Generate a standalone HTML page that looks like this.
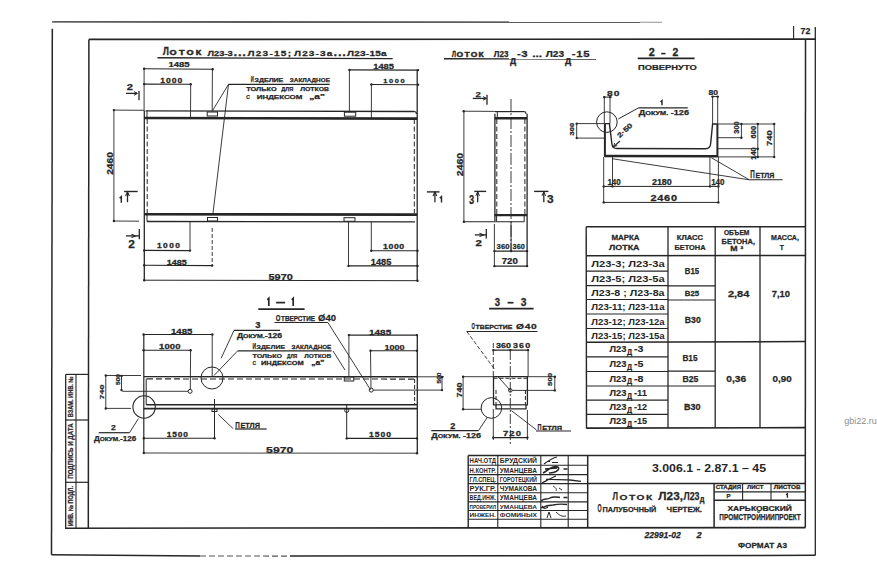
<!DOCTYPE html>
<html><head><meta charset="utf-8"><style>
html,body{margin:0;padding:0;background:#fff;}
svg{display:block;}
text{font-family:"Liberation Sans",sans-serif;}
</style></head><body>
<svg width="877" height="584" viewBox="0 0 877 584">
<rect width="877" height="584" fill="#fff"/>
<line x1="52.2" y1="21.9" x2="640.0" y2="22.2" stroke="#262626" stroke-width="1.3"/>
<line x1="640.0" y1="22.2" x2="662.0" y2="22.3" stroke="#262626" stroke-width="1.0" opacity="0.5"/>
<line x1="52.3" y1="28.8" x2="51.5" y2="554.8" stroke="#262626" stroke-width="1.5"/>
<path d="M51.5,554.7 L200,556.0" stroke="#262626" stroke-width="1.5" fill="none"/>
<path d="M200,556.0 L290,556.1" stroke="#555" stroke-width="1.1" fill="none" stroke-dasharray="6,3"/>
<path d="M290,556.1 L815.3,555.3" stroke="#262626" stroke-width="1.5" fill="none"/>
<line x1="815.3" y1="27.0" x2="815.3" y2="555.4" stroke="#262626" stroke-width="1.3"/>
<line x1="88.9" y1="39.4" x2="815.9" y2="39.1" stroke="#262626" stroke-width="1.6"/>
<line x1="88.9" y1="39.4" x2="88.3" y2="528.0" stroke="#262626" stroke-width="1.5"/>
<line x1="65.0" y1="528.2" x2="805.5" y2="527.6" stroke="#262626" stroke-width="1.6"/>
<line x1="805.5" y1="39.1" x2="805.3" y2="527.6" stroke="#262626" stroke-width="1.5"/>
<line x1="793.6" y1="26.0" x2="793.6" y2="39.2" stroke="#262626" stroke-width="1.1"/>
<text x="800.6" y="34.1" font-size="9.29" font-weight="bold" font-style="normal" font-family="Liberation Sans" fill="#262626" stroke="#262626" stroke-width="0.25" textLength="9.7" lengthAdjust="spacingAndGlyphs">72</text>
<line x1="65.7" y1="374.4" x2="65.7" y2="528.0" stroke="#262626" stroke-width="1.3"/>
<line x1="76.0" y1="374.4" x2="76.0" y2="528.0" stroke="#262626" stroke-width="1.1"/>
<line x1="65.7" y1="374.4" x2="88.4" y2="374.4" stroke="#262626" stroke-width="1.2"/>
<line x1="65.7" y1="420.0" x2="88.4" y2="420.0" stroke="#262626" stroke-width="1.2"/>
<line x1="65.7" y1="482.3" x2="88.4" y2="482.3" stroke="#262626" stroke-width="1.2"/>
<text transform="translate(71.0,396.8) rotate(-90)" x="-20.5" y="2.3" font-size="6.57" font-weight="bold" font-family="Liberation Sans" fill="#262626" stroke="#262626" stroke-width="0.25" textLength="41.0" lengthAdjust="spacingAndGlyphs">ВЗАМ. ИНВ. №</text>
<text transform="translate(71.0,451.1) rotate(-90)" x="-27.7" y="2.3" font-size="6.57" font-weight="bold" font-family="Liberation Sans" fill="#262626" stroke="#262626" stroke-width="0.25" textLength="55.4" lengthAdjust="spacingAndGlyphs">ПОДПИСЬ И ДАТА</text>
<text transform="translate(71.0,506.0) rotate(-90)" x="-20.0" y="2.3" font-size="6.57" font-weight="bold" font-family="Liberation Sans" fill="#262626" stroke="#262626" stroke-width="0.25" textLength="40.0" lengthAdjust="spacingAndGlyphs">ИНВ. № ПОДЛ.</text>
<line x1="468.2" y1="455.6" x2="805.5" y2="455.4" stroke="#262626" stroke-width="1.5"/>
<line x1="468.2" y1="455.6" x2="468.2" y2="527.8" stroke="#262626" stroke-width="1.4"/>
<line x1="468.2" y1="465.2" x2="587.7" y2="465.2" stroke="#262626" stroke-width="1.1"/>
<line x1="468.2" y1="474.6" x2="587.7" y2="474.6" stroke="#262626" stroke-width="1.1"/>
<line x1="468.2" y1="483.6" x2="587.7" y2="483.6" stroke="#262626" stroke-width="1.1"/>
<line x1="468.2" y1="492.7" x2="587.7" y2="492.7" stroke="#262626" stroke-width="1.1"/>
<line x1="468.2" y1="501.9" x2="587.7" y2="501.9" stroke="#262626" stroke-width="1.1"/>
<line x1="468.2" y1="510.5" x2="587.7" y2="510.5" stroke="#262626" stroke-width="1.1"/>
<line x1="468.2" y1="519.2" x2="587.7" y2="519.2" stroke="#262626" stroke-width="1.1"/>
<line x1="497.8" y1="455.6" x2="497.8" y2="527.8" stroke="#262626" stroke-width="1.1"/>
<line x1="540.8" y1="455.6" x2="540.8" y2="527.8" stroke="#262626" stroke-width="1.1"/>
<line x1="568.2" y1="455.6" x2="568.2" y2="527.8" stroke="#262626" stroke-width="1.1"/>
<line x1="587.7" y1="455.6" x2="587.7" y2="527.8" stroke="#262626" stroke-width="1.5"/>
<line x1="587.7" y1="483.4" x2="805.5" y2="483.6" stroke="#262626" stroke-width="1.5"/>
<line x1="714.1" y1="483.6" x2="714.1" y2="527.8" stroke="#262626" stroke-width="1.5"/>
<line x1="714.1" y1="491.9" x2="805.5" y2="491.9" stroke="#262626" stroke-width="1.1"/>
<line x1="714.1" y1="500.3" x2="805.5" y2="500.3" stroke="#262626" stroke-width="1.5"/>
<line x1="742.6" y1="483.6" x2="742.6" y2="500.3" stroke="#262626" stroke-width="1.1"/>
<line x1="771.0" y1="483.6" x2="771.0" y2="500.3" stroke="#262626" stroke-width="1.1"/>
<text x="469.6" y="463.2" font-size="7.14" font-weight="bold" font-style="normal" font-family="Liberation Sans" fill="#262626" textLength="26.4" lengthAdjust="spacingAndGlyphs">НАЧ.ОТД</text>
<text x="499.8" y="463.2" font-size="7.14" font-weight="bold" font-style="normal" font-family="Liberation Sans" fill="#262626" textLength="37.2" lengthAdjust="spacingAndGlyphs">БРУДСКИЙ</text>
<text x="469.6" y="472.6" font-size="7.14" font-weight="bold" font-style="normal" font-family="Liberation Sans" fill="#262626" textLength="26.4" lengthAdjust="spacingAndGlyphs">Н.КОНТР.</text>
<text x="499.8" y="472.6" font-size="7.14" font-weight="bold" font-style="normal" font-family="Liberation Sans" fill="#262626" textLength="37.2" lengthAdjust="spacingAndGlyphs">УМАНЦЕВА</text>
<text x="469.6" y="481.6" font-size="6.57" font-weight="bold" font-style="normal" font-family="Liberation Sans" fill="#262626" textLength="26.4" lengthAdjust="spacingAndGlyphs">ГЛ.СПЕЦ.</text>
<text x="499.8" y="481.6" font-size="6.57" font-weight="bold" font-style="normal" font-family="Liberation Sans" fill="#262626" textLength="37.2" lengthAdjust="spacingAndGlyphs">ГОРОТЕЦКИЙ</text>
<text transform="translate(469.6,490.7) scale(1.115,1)" font-size="6.71" font-weight="bold" font-style="normal" font-family="Liberation Sans" fill="#262626" textLength="23.7" lengthAdjust="spacing">РУК.ГР.</text>
<text x="499.8" y="490.7" font-size="6.71" font-weight="bold" font-style="normal" font-family="Liberation Sans" fill="#262626" textLength="37.2" lengthAdjust="spacingAndGlyphs">ЧУМАКОВА</text>
<text x="469.6" y="499.9" font-size="6.86" font-weight="bold" font-style="normal" font-family="Liberation Sans" fill="#262626" textLength="26.4" lengthAdjust="spacingAndGlyphs">ВЕД.ИНЖ.</text>
<text x="499.8" y="499.9" font-size="6.86" font-weight="bold" font-style="normal" font-family="Liberation Sans" fill="#262626" textLength="37.2" lengthAdjust="spacingAndGlyphs">УМАНЦЕВА</text>
<text x="469.6" y="508.5" font-size="6.00" font-weight="bold" font-style="normal" font-family="Liberation Sans" fill="#262626" textLength="26.4" lengthAdjust="spacingAndGlyphs">ПРОВЕРИЛ</text>
<text transform="translate(499.8,508.5) scale(1.089,1)" font-size="6.00" font-weight="bold" font-style="normal" font-family="Liberation Sans" fill="#262626" textLength="34.1" lengthAdjust="spacing">УМАНЦЕВА</text>
<text transform="translate(469.6,517.2) scale(1.071,1)" font-size="6.14" font-weight="bold" font-style="normal" font-family="Liberation Sans" fill="#262626" textLength="24.6" lengthAdjust="spacing">ИНЖЕН.</text>
<text transform="translate(499.8,517.2) scale(1.091,1)" font-size="6.14" font-weight="bold" font-style="normal" font-family="Liberation Sans" fill="#262626" textLength="34.1" lengthAdjust="spacing">ФОМИНЫХ</text>
<text transform="translate(651.9,471.5) scale(1.154,1)" font-size="10.71" font-weight="bold" font-style="normal" font-family="Liberation Sans" fill="#262626" textLength="98.9" lengthAdjust="spacing">3.006.1 - 2.87.1 – 45</text>
<text x="612.5" y="500.4" font-size="11.71" font-weight="bold" font-style="normal" font-family="Liberation Sans" fill="#262626" stroke="#262626" stroke-width="0.25" textLength="5.5" lengthAdjust="spacingAndGlyphs">Л</text>
<text transform="translate(619.4,500.4) scale(1.300,1)" font-size="7.86" font-weight="bold" font-style="normal" font-family="Liberation Sans" fill="#262626" stroke="#262626" stroke-width="0.25" textLength="25.2" lengthAdjust="spacing">ОТОК</text>
<text transform="translate(658.3,500.4) scale(1.008,1)" font-size="11.71" font-weight="bold" font-style="normal" font-family="Liberation Sans" fill="#262626" stroke="#262626" stroke-width="0.25" textLength="24.5" lengthAdjust="spacing">Л23,</text>
<text x="683.5" y="500.4" font-size="11.71" font-weight="bold" font-style="normal" font-family="Liberation Sans" fill="#262626" stroke="#262626" stroke-width="0.25" textLength="16.0" lengthAdjust="spacingAndGlyphs">Л23</text>
<text x="699.8" y="502.4" font-size="9.25" font-weight="bold" font-style="normal" font-family="Liberation Sans" fill="#262626" stroke="#262626" stroke-width="0.25" textLength="4.7" lengthAdjust="spacingAndGlyphs">д</text>
<text x="597.5" y="512.0" font-size="10.71" font-weight="bold" font-style="normal" font-family="Liberation Sans" fill="#262626" stroke="#262626" stroke-width="0.25" textLength="4.1" lengthAdjust="spacingAndGlyphs">О</text>
<text x="602.5" y="512.0" font-size="7.86" font-weight="bold" font-style="normal" font-family="Liberation Sans" fill="#262626" stroke="#262626" stroke-width="0.25" textLength="53.8" lengthAdjust="spacingAndGlyphs">ПАЛУБОЧНЫЙ</text>
<text transform="translate(666.6,512.0) scale(1.008,1)" font-size="7.86" font-weight="bold" font-style="normal" font-family="Liberation Sans" fill="#262626" stroke="#262626" stroke-width="0.25" textLength="35.2" lengthAdjust="spacing">ЧЕРТЕЖ.</text>
<text transform="translate(715.8,489.4) scale(1.117,1)" font-size="5.43" font-weight="bold" font-style="normal" font-family="Liberation Sans" fill="#262626" stroke="#262626" stroke-width="0.25" textLength="22.6" lengthAdjust="spacing">СТАДИЯ</text>
<text transform="translate(747.0,489.4) scale(1.114,1)" font-size="5.43" font-weight="bold" font-style="normal" font-family="Liberation Sans" fill="#262626" stroke="#262626" stroke-width="0.25" textLength="14.8" lengthAdjust="spacing">ЛИСТ</text>
<text transform="translate(773.8,489.4) scale(1.179,1)" font-size="5.43" font-weight="bold" font-style="normal" font-family="Liberation Sans" fill="#262626" stroke="#262626" stroke-width="0.25" textLength="22.8" lengthAdjust="spacing">ЛИСТОВ</text>
<text x="726.6" y="497.6" font-size="5.43" font-weight="bold" font-style="normal" font-family="Liberation Sans" fill="#262626" stroke="#262626" stroke-width="0.25" textLength="4.0" lengthAdjust="spacingAndGlyphs">Р</text>
<path d="M786.0,494.8 L787.4,493.8 L787.4,497.8" stroke="#262626" stroke-width="1.3" fill="none"/>
<text transform="translate(727.4,510.8) scale(1.235,1)" font-size="6.86" font-weight="bold" font-style="normal" font-family="Liberation Sans" fill="#262626" stroke="#262626" stroke-width="0.25" textLength="52.2" lengthAdjust="spacing">ХАРЬКОВСКИЙ</text>
<text x="719.3" y="520.4" font-size="9.57" font-weight="bold" font-style="normal" font-family="Liberation Sans" fill="#262626" stroke="#262626" stroke-width="0.25" textLength="81.5" lengthAdjust="spacingAndGlyphs">ПРОМСТРОЙНИИПРОЕКТ</text>
<text x="644.5" y="538.3" font-size="9.43" font-weight="bold" font-style="italic" font-family="Liberation Sans" fill="#262626" stroke="#262626" stroke-width="0.25" textLength="36.3" lengthAdjust="spacingAndGlyphs">22991-02</text>
<text x="696.4" y="538.3" font-size="9.43" font-weight="bold" font-style="italic" font-family="Liberation Sans" fill="#262626" stroke="#262626" stroke-width="0.25" textLength="5.1" lengthAdjust="spacingAndGlyphs">2</text>
<text transform="translate(738.0,548.3) scale(1.028,1)" font-size="8.00" font-weight="bold" font-style="normal" font-family="Liberation Sans" fill="#262626" stroke="#262626" stroke-width="0.25" textLength="47.7" lengthAdjust="spacing">ФОРМАТ А3</text>
<text x="844.2" y="423.8" font-size="9.01" font-weight="normal" font-style="normal" font-family="Liberation Sans" fill="#8c8c8c" textLength="32.6" lengthAdjust="spacingAndGlyphs">gbi22.ru</text>
<text x="163.0" y="55.2" font-size="11.43" font-weight="bold" font-style="normal" font-family="Liberation Sans" fill="#262626" stroke="#262626" stroke-width="0.5" textLength="5.8" lengthAdjust="spacingAndGlyphs">Л</text>
<text transform="translate(169.6,55.2) scale(1.300,1)" font-size="7.00" font-weight="bold" font-style="normal" font-family="Liberation Sans" fill="#262626" stroke="#262626" stroke-width="0.45" textLength="24.4" lengthAdjust="spacing">ОТОК</text>
<text transform="translate(207.5,55.7) scale(1.209,1)" font-size="7.71" font-weight="bold" font-style="normal" font-family="Liberation Sans" fill="#262626" stroke="#262626" stroke-width="0.25" textLength="20.9" lengthAdjust="spacing">Л23-3</text>
<text transform="translate(233.5,56.0) scale(1.300,1)" font-size="10.00" font-weight="bold" font-style="normal" font-family="Liberation Sans" fill="#262626" stroke="#262626" stroke-width="0.25" textLength="9.6" lengthAdjust="spacing">...</text>
<text transform="translate(247.5,55.7) scale(1.300,1)" font-size="7.71" font-weight="bold" font-style="normal" font-family="Liberation Sans" fill="#262626" stroke="#262626" stroke-width="0.25" textLength="33.5" lengthAdjust="spacing">Л23-15;</text>
<text transform="translate(294.0,55.7) scale(1.300,1)" font-size="7.71" font-weight="bold" font-style="normal" font-family="Liberation Sans" fill="#262626" stroke="#262626" stroke-width="0.25" textLength="29.5" lengthAdjust="spacing">Л23-3а</text>
<text transform="translate(333.5,56.0) scale(1.300,1)" font-size="10.00" font-weight="bold" font-style="normal" font-family="Liberation Sans" fill="#262626" stroke="#262626" stroke-width="0.25" textLength="9.6" lengthAdjust="spacing">...</text>
<text transform="translate(347.0,55.7) scale(1.300,1)" font-size="7.71" font-weight="bold" font-style="normal" font-family="Liberation Sans" fill="#262626" stroke="#262626" stroke-width="0.25" textLength="30.5" lengthAdjust="spacing">Л23-15а</text>
<line x1="157.5" y1="57.8" x2="392.7" y2="58.6" stroke="#262626" stroke-width="1.4"/>
<line x1="144.1" y1="68.8" x2="212.7" y2="69.2" stroke="#262626" stroke-width="1.1"/>
<circle cx="144.1" cy="68.8" r="1.2" fill="#262626"/>
<circle cx="212.7" cy="69.2" r="1.2" fill="#262626"/>
<text transform="translate(168.5,67.4) scale(1.283,1)" font-size="7.43" font-weight="bold" font-style="normal" font-family="Liberation Sans" fill="#262626" stroke="#262626" stroke-width="0.25" textLength="16.5" lengthAdjust="spacing">1485</text>
<line x1="144.1" y1="84.1" x2="190.7" y2="84.3" stroke="#262626" stroke-width="1.1"/>
<circle cx="144.1" cy="84.1" r="1.2" fill="#262626"/>
<circle cx="190.7" cy="84.3" r="1.2" fill="#262626"/>
<text transform="translate(160.3,82.7) scale(1.300,1)" font-size="6.57" font-weight="bold" font-style="normal" font-family="Liberation Sans" fill="#262626" stroke="#262626" stroke-width="0.25" textLength="16.8" lengthAdjust="spacing">1000</text>
<line x1="144.1" y1="68.8" x2="144.1" y2="111.0" stroke="#262626" stroke-width="0.9"/>
<line x1="190.7" y1="84.3" x2="190.5" y2="118.0" stroke="#262626" stroke-width="0.9"/>
<line x1="212.4" y1="69.2" x2="212.2" y2="111.0" stroke="#262626" stroke-width="0.9"/>
<line x1="349.4" y1="69.9" x2="418.5" y2="70.1" stroke="#262626" stroke-width="1.1"/>
<circle cx="349.4" cy="69.9" r="1.2" fill="#262626"/>
<circle cx="418.0" cy="70.1" r="1.2" fill="#262626"/>
<text transform="translate(373.3,68.9) scale(1.229,1)" font-size="7.57" font-weight="bold" font-style="normal" font-family="Liberation Sans" fill="#262626" stroke="#262626" stroke-width="0.25" textLength="16.8" lengthAdjust="spacing">1485</text>
<line x1="371.4" y1="84.5" x2="418.5" y2="84.7" stroke="#262626" stroke-width="1.1"/>
<circle cx="371.4" cy="84.5" r="1.2" fill="#262626"/>
<circle cx="418.0" cy="84.7" r="1.2" fill="#262626"/>
<text transform="translate(383.3,83.3) scale(1.300,1)" font-size="5.71" font-weight="bold" font-style="normal" font-family="Liberation Sans" fill="#262626" stroke="#262626" stroke-width="0.25" textLength="16.5" lengthAdjust="spacing">1000</text>
<line x1="349.4" y1="69.9" x2="349.4" y2="112.0" stroke="#262626" stroke-width="0.9"/>
<line x1="371.4" y1="84.5" x2="371.4" y2="118.0" stroke="#262626" stroke-width="0.9"/>
<text x="126.7" y="90.0" font-size="9.14" font-weight="bold" font-style="normal" font-family="Liberation Sans" fill="#262626" stroke="#262626" stroke-width="0.25" textLength="6.2" lengthAdjust="spacingAndGlyphs">2</text>
<line x1="126.0" y1="93.4" x2="137.0" y2="93.4" stroke="#262626" stroke-width="1.3"/>
<path d="M134,91.6 L137.5,93.4 L134,95.2" stroke="#262626" stroke-width="1.0" fill="none"/>
<line x1="139.0" y1="91.0" x2="139.0" y2="100.3" stroke="#262626" stroke-width="1.3"/>
<line x1="113.9" y1="110.1" x2="113.9" y2="221.0" stroke="#262626" stroke-width="0.9"/>
<circle cx="113.9" cy="110.1" r="1.2" fill="#262626"/>
<circle cx="113.9" cy="221.0" r="1.2" fill="#262626"/>
<line x1="113.0" y1="110.1" x2="144.3" y2="110.3" stroke="#262626" stroke-width="0.9"/>
<line x1="113.3" y1="221.0" x2="139.0" y2="221.2" stroke="#262626" stroke-width="0.9"/>
<text transform="translate(109.5,163.5) rotate(-90)" x="-11.3" y="3.1" font-size="9.00" font-weight="bold" font-family="Liberation Sans" fill="#262626" stroke="#262626" stroke-width="0.25" textLength="22.6" lengthAdjust="spacingAndGlyphs">2460</text>
<line x1="145.5" y1="110.9" x2="414.0" y2="111.5" stroke="#262626" stroke-width="1.3"/>
<path d="M414,111.5 Q416.5,111.6 416.5,114" stroke="#262626" stroke-width="1.2" fill="none"/>
<line x1="144.3" y1="118.0" x2="417.2" y2="118.6" stroke="#262626" stroke-width="2.6"/>
<line x1="144.3" y1="214.2" x2="417.2" y2="214.6" stroke="#262626" stroke-width="2.6"/>
<line x1="147.0" y1="221.5" x2="415.0" y2="221.9" stroke="#262626" stroke-width="1.3"/>
<line x1="144.3" y1="110.9" x2="144.3" y2="280.5" stroke="#262626" stroke-width="1.3"/>
<line x1="417.2" y1="69.9" x2="417.2" y2="280.9" stroke="#262626" stroke-width="1.3"/>
<line x1="147.2" y1="119.0" x2="147.2" y2="213.0" stroke="#262626" stroke-width="1.0" stroke-dasharray="5,2.5"/>
<line x1="414.3" y1="119.0" x2="414.3" y2="213.0" stroke="#262626" stroke-width="1.0" stroke-dasharray="5,2.5"/>
<line x1="147.0" y1="111.0" x2="147.0" y2="118.0" stroke="#262626" stroke-width="1.0"/>
<line x1="147.0" y1="215.0" x2="147.0" y2="221.5" stroke="#262626" stroke-width="1.0"/>
<rect x="207.2" y="112.0" width="10.3" height="4.0" stroke="#262626" stroke-width="1.0" fill="none"/>
<rect x="344.4" y="112.2" width="11.3" height="4.0" stroke="#262626" stroke-width="1.0" fill="none"/>
<rect x="207.5" y="217.5" width="10.0" height="3.5" stroke="#262626" stroke-width="1.0" fill="none"/>
<rect x="344.0" y="217.7" width="11.0" height="3.6" stroke="#262626" stroke-width="1.0" fill="none"/>
<line x1="228.5" y1="84.3" x2="329.7" y2="84.3" stroke="#262626" stroke-width="1.2"/>
<line x1="228.5" y1="84.3" x2="212.3" y2="111.0" stroke="#262626" stroke-width="0.9"/>
<line x1="228.5" y1="84.3" x2="212.9" y2="214.0" stroke="#262626" stroke-width="0.9"/>
<text x="250.8" y="82.3" font-size="8.57" font-weight="bold" font-style="normal" font-family="Liberation Sans" fill="#262626" stroke="#262626" stroke-width="0.25" textLength="3.0" lengthAdjust="spacingAndGlyphs">И</text>
<text x="254.6" y="82.3" font-size="5.43" font-weight="bold" font-style="normal" font-family="Liberation Sans" fill="#262626" stroke="#262626" stroke-width="0.25" textLength="28.7" lengthAdjust="spacingAndGlyphs">ЗДЕЛИЕ</text>
<text x="289.8" y="82.3" font-size="5.43" font-weight="bold" font-style="normal" font-family="Liberation Sans" fill="#262626" stroke="#262626" stroke-width="0.25" textLength="40.1" lengthAdjust="spacingAndGlyphs">ЗАКЛАДНОЕ</text>
<text x="246.2" y="91.3" font-size="6.00" font-weight="bold" font-style="normal" font-family="Liberation Sans" fill="#262626" stroke="#262626" stroke-width="0.25" textLength="30.4" lengthAdjust="spacingAndGlyphs">ТОЛЬКО</text>
<text x="281.3" y="91.3" font-size="6.00" font-weight="bold" font-style="normal" font-family="Liberation Sans" fill="#262626" stroke="#262626" stroke-width="0.25" textLength="12.1" lengthAdjust="spacingAndGlyphs">ДЛЯ</text>
<text x="300.2" y="91.3" font-size="6.00" font-weight="bold" font-style="normal" font-family="Liberation Sans" fill="#262626" stroke="#262626" stroke-width="0.25" textLength="28.9" lengthAdjust="spacingAndGlyphs">ЛОТКОВ</text>
<text x="246.2" y="98.7" font-size="6.00" font-weight="bold" font-style="normal" font-family="Liberation Sans" fill="#262626" stroke="#262626" stroke-width="0.25" textLength="3.7" lengthAdjust="spacingAndGlyphs">С</text>
<text x="256.7" y="98.7" font-size="6.00" font-weight="bold" font-style="normal" font-family="Liberation Sans" fill="#262626" stroke="#262626" stroke-width="0.25" textLength="45.6" lengthAdjust="spacingAndGlyphs">ИНДЕКСОМ</text>
<text x="309.2" y="98.7" font-size="7.00" font-weight="bold" font-style="normal" font-family="Liberation Sans" fill="#262626" stroke="#262626" stroke-width="0.25" textLength="15.7" lengthAdjust="spacingAndGlyphs">„а"</text>
<line x1="124.1" y1="191.5" x2="137.7" y2="191.5" stroke="#262626" stroke-width="1.4"/>
<line x1="127.5" y1="192.0" x2="127.5" y2="202.2" stroke="#262626" stroke-width="1.3"/>
<path d="M125.6,196 L127.5,192 L129.4,196" stroke="#262626" stroke-width="1.1" fill="none"/>
<path d="M119.6,198.2 L121.3,196.6 L121.3,202.7" stroke="#262626" stroke-width="1.4" fill="none"/>
<line x1="426.9" y1="191.9" x2="439.5" y2="191.9" stroke="#262626" stroke-width="1.4"/>
<line x1="434.9" y1="192.0" x2="434.9" y2="202.2" stroke="#262626" stroke-width="1.3"/>
<path d="M433,196 L434.9,192 L436.8,196" stroke="#262626" stroke-width="1.1" fill="none"/>
<path d="M439.8,198.2 L441.5,196.6 L441.5,202.5" stroke="#262626" stroke-width="1.4" fill="none"/>
<line x1="126.0" y1="235.9" x2="139.3" y2="235.9" stroke="#262626" stroke-width="1.3"/>
<path d="M131.5,234.2 L135.5,235.9 L131.5,237.6" stroke="#262626" stroke-width="1.1" fill="none"/>
<line x1="139.3" y1="228.9" x2="139.3" y2="239.3" stroke="#262626" stroke-width="1.3"/>
<text x="128.2" y="248.2" font-size="10.57" font-weight="bold" font-style="normal" font-family="Liberation Sans" fill="#262626" stroke="#262626" stroke-width="0.25" textLength="6.6" lengthAdjust="spacingAndGlyphs">2</text>
<line x1="144.2" y1="250.4" x2="190.0" y2="250.6" stroke="#262626" stroke-width="1.1"/>
<circle cx="144.2" cy="250.4" r="1.2" fill="#262626"/>
<circle cx="190.0" cy="250.6" r="1.2" fill="#262626"/>
<text transform="translate(157.0,248.2) scale(1.300,1)" font-size="6.43" font-weight="bold" font-style="normal" font-family="Liberation Sans" fill="#262626" stroke="#262626" stroke-width="0.25" textLength="17.7" lengthAdjust="spacing">1000</text>
<line x1="144.2" y1="265.2" x2="212.2" y2="265.6" stroke="#262626" stroke-width="1.1"/>
<circle cx="144.2" cy="265.2" r="1.2" fill="#262626"/>
<circle cx="212.2" cy="265.6" r="1.2" fill="#262626"/>
<text transform="translate(166.7,264.5) scale(1.210,1)" font-size="7.43" font-weight="bold" font-style="normal" font-family="Liberation Sans" fill="#262626" stroke="#262626" stroke-width="0.25" textLength="16.5" lengthAdjust="spacing">1485</text>
<line x1="190.0" y1="222.0" x2="190.0" y2="250.5" stroke="#262626" stroke-width="0.9"/>
<line x1="212.2" y1="228.0" x2="212.2" y2="265.4" stroke="#262626" stroke-width="0.9" stroke-dasharray="4,2"/>
<line x1="371.3" y1="250.8" x2="418.0" y2="250.8" stroke="#262626" stroke-width="1.1"/>
<circle cx="371.3" cy="250.8" r="1.2" fill="#262626"/>
<circle cx="417.5" cy="250.8" r="1.2" fill="#262626"/>
<text transform="translate(383.1,248.9) scale(1.300,1)" font-size="6.71" font-weight="bold" font-style="normal" font-family="Liberation Sans" fill="#262626" stroke="#262626" stroke-width="0.25" textLength="16.2" lengthAdjust="spacing">1000</text>
<line x1="348.5" y1="265.9" x2="418.0" y2="265.9" stroke="#262626" stroke-width="1.1"/>
<circle cx="348.5" cy="265.9" r="1.2" fill="#262626"/>
<circle cx="417.5" cy="265.9" r="1.2" fill="#262626"/>
<text transform="translate(370.8,264.8) scale(1.132,1)" font-size="8.14" font-weight="bold" font-style="normal" font-family="Liberation Sans" fill="#262626" stroke="#262626" stroke-width="0.25" textLength="18.1" lengthAdjust="spacing">1485</text>
<line x1="371.3" y1="222.0" x2="371.3" y2="250.8" stroke="#262626" stroke-width="0.9"/>
<line x1="348.5" y1="222.0" x2="348.5" y2="265.9" stroke="#262626" stroke-width="0.9"/>
<line x1="144.2" y1="280.2" x2="418.0" y2="280.7" stroke="#262626" stroke-width="1.0"/>
<circle cx="144.2" cy="280.2" r="1.2" fill="#262626"/>
<circle cx="417.5" cy="280.7" r="1.2" fill="#262626"/>
<text transform="translate(268.5,279.6) scale(1.159,1)" font-size="9.43" font-weight="bold" font-style="normal" font-family="Liberation Sans" fill="#262626" stroke="#262626" stroke-width="0.25" textLength="21.0" lengthAdjust="spacing">5970</text>
<text x="451.9" y="56.9" font-size="9.14" font-weight="bold" font-style="normal" font-family="Liberation Sans" fill="#262626" stroke="#262626" stroke-width="0.45" textLength="3.9" lengthAdjust="spacingAndGlyphs">Л</text>
<text transform="translate(456.5,56.9) scale(1.300,1)" font-size="6.57" font-weight="bold" font-style="normal" font-family="Liberation Sans" fill="#262626" stroke="#262626" stroke-width="0.4" textLength="21.0" lengthAdjust="spacing">ОТОК</text>
<text x="493.8" y="56.9" font-size="8.71" font-weight="bold" font-style="normal" font-family="Liberation Sans" fill="#262626" stroke="#262626" stroke-width="0.25" textLength="14.6" lengthAdjust="spacingAndGlyphs">Л23</text>
<text x="510.0" y="64.2" font-size="10.57" font-weight="bold" font-style="normal" font-family="Liberation Sans" fill="#262626" stroke="#262626" stroke-width="0.25" textLength="6.2" lengthAdjust="spacingAndGlyphs">д</text>
<text transform="translate(517.0,56.9) scale(1.300,1)" font-size="8.71" font-weight="bold" font-style="normal" font-family="Liberation Sans" fill="#262626" stroke="#262626" stroke-width="0.25" textLength="8.2" lengthAdjust="spacing">-3</text>
<text transform="translate(532.2,56.9) scale(1.263,1)" font-size="9.50" font-weight="bold" font-style="normal" font-family="Liberation Sans" fill="#262626" stroke="#262626" stroke-width="0.25" textLength="7.9" lengthAdjust="spacing">...</text>
<text transform="translate(545.8,56.9) scale(1.158,1)" font-size="8.71" font-weight="bold" font-style="normal" font-family="Liberation Sans" fill="#262626" stroke="#262626" stroke-width="0.25" textLength="15.8" lengthAdjust="spacing">Л23</text>
<text x="565.0" y="64.2" font-size="10.57" font-weight="bold" font-style="normal" font-family="Liberation Sans" fill="#262626" stroke="#262626" stroke-width="0.25" textLength="6.2" lengthAdjust="spacingAndGlyphs">д</text>
<text transform="translate(571.8,56.9) scale(1.300,1)" font-size="8.71" font-weight="bold" font-style="normal" font-family="Liberation Sans" fill="#262626" stroke="#262626" stroke-width="0.25" textLength="13.7" lengthAdjust="spacing">-15</text>
<line x1="444.0" y1="58.8" x2="596.0" y2="59.0" stroke="#262626" stroke-width="1.4"/>
<text x="475.6" y="96.6" font-size="8.00" font-weight="bold" font-style="normal" font-family="Liberation Sans" fill="#262626" stroke="#262626" stroke-width="0.25" textLength="5.4" lengthAdjust="spacingAndGlyphs">2</text>
<line x1="472.8" y1="98.4" x2="486.0" y2="98.4" stroke="#262626" stroke-width="1.3"/>
<path d="M483,96.6 L486.5,98.4 L483,100.2" stroke="#262626" stroke-width="1.0" fill="none"/>
<line x1="487.0" y1="94.7" x2="487.0" y2="104.8" stroke="#262626" stroke-width="1.3"/>
<line x1="463.7" y1="111.2" x2="494.7" y2="111.4" stroke="#262626" stroke-width="0.9"/>
<circle cx="463.7" cy="111.2" r="1.2" fill="#262626"/>
<line x1="494.7" y1="111.6" x2="524.5" y2="111.6" stroke="#262626" stroke-width="1.2"/>
<path d="M524.5,111.6 Q526,111.8 526,114" stroke="#262626" stroke-width="1.1" fill="none"/>
<line x1="497.3" y1="111.6" x2="497.3" y2="117.2" stroke="#262626" stroke-width="1.0"/>
<line x1="494.9" y1="113.8" x2="494.9" y2="221.0" stroke="#262626" stroke-width="1.3"/>
<line x1="527.1" y1="113.8" x2="527.1" y2="266.5" stroke="#262626" stroke-width="1.3"/>
<line x1="494.7" y1="118.2" x2="527.1" y2="118.2" stroke="#262626" stroke-width="2.4"/>
<line x1="494.5" y1="215.1" x2="527.1" y2="215.1" stroke="#262626" stroke-width="2.4"/>
<line x1="463.9" y1="221.8" x2="524.2" y2="221.8" stroke="#262626" stroke-width="1.1"/>
<circle cx="463.9" cy="221.8" r="1.2" fill="#262626"/>
<line x1="496.6" y1="215.5" x2="496.6" y2="221.5" stroke="#262626" stroke-width="1.0"/>
<line x1="524.2" y1="215.5" x2="524.2" y2="221.8" stroke="#262626" stroke-width="1.0"/>
<line x1="496.8" y1="119.0" x2="496.8" y2="214.0" stroke="#262626" stroke-width="1.0" stroke-dasharray="5,2.5"/>
<line x1="524.9" y1="119.0" x2="524.9" y2="214.0" stroke="#262626" stroke-width="1.0" stroke-dasharray="5,2.5"/>
<line x1="511.0" y1="99.0" x2="511.0" y2="251.0" stroke="#262626" stroke-width="0.9" stroke-dasharray="12,2,2,2"/>
<line x1="463.9" y1="111.2" x2="463.9" y2="221.8" stroke="#262626" stroke-width="0.9"/>
<text transform="translate(459.6,164.5) rotate(-90)" x="-11.7" y="3.0" font-size="8.57" font-weight="bold" font-family="Liberation Sans" fill="#262626" stroke="#262626" stroke-width="0.25" textLength="23.3" lengthAdjust="spacingAndGlyphs">2460</text>
<text x="469.1" y="203.6" font-size="12.00" font-weight="bold" font-style="normal" font-family="Liberation Sans" fill="#262626" stroke="#262626" stroke-width="0.25" textLength="5.2" lengthAdjust="spacingAndGlyphs">3</text>
<line x1="474.3" y1="191.4" x2="486.2" y2="191.4" stroke="#262626" stroke-width="1.4"/>
<line x1="477.7" y1="191.6" x2="477.7" y2="202.2" stroke="#262626" stroke-width="1.3"/>
<path d="M475.9,195.8 L477.7,191.8 L479.5,195.8" stroke="#262626" stroke-width="1.0" fill="none"/>
<line x1="534.1" y1="191.4" x2="548.4" y2="191.4" stroke="#262626" stroke-width="1.4"/>
<line x1="543.8" y1="191.6" x2="543.8" y2="202.2" stroke="#262626" stroke-width="1.3"/>
<path d="M542.0,195.8 L543.8,191.8 L545.6,195.8" stroke="#262626" stroke-width="1.0" fill="none"/>
<text x="546.9" y="202.8" font-size="10.57" font-weight="bold" font-style="normal" font-family="Liberation Sans" fill="#262626" stroke="#262626" stroke-width="0.25" textLength="6.6" lengthAdjust="spacingAndGlyphs">3</text>
<line x1="474.8" y1="234.9" x2="486.3" y2="234.9" stroke="#262626" stroke-width="1.3"/>
<path d="M479.5,233.2 L483.5,234.9 L479.5,236.6" stroke="#262626" stroke-width="1.1" fill="none"/>
<line x1="486.3" y1="228.9" x2="486.3" y2="238.5" stroke="#262626" stroke-width="1.3"/>
<text x="475.4" y="245.6" font-size="8.29" font-weight="bold" font-style="normal" font-family="Liberation Sans" fill="#262626" stroke="#262626" stroke-width="0.25" textLength="6.4" lengthAdjust="spacingAndGlyphs">2</text>
<line x1="494.4" y1="224.0" x2="494.4" y2="266.5" stroke="#262626" stroke-width="0.9"/>
<line x1="511.1" y1="222.0" x2="511.1" y2="251.1" stroke="#262626" stroke-width="0.9"/>
<line x1="494.4" y1="251.1" x2="527.1" y2="251.1" stroke="#262626" stroke-width="1.1"/>
<circle cx="494.4" cy="251.1" r="1.2" fill="#262626"/>
<circle cx="511.1" cy="251.1" r="1.2" fill="#262626"/>
<circle cx="527.1" cy="251.1" r="1.2" fill="#262626"/>
<text transform="translate(496.6,249.4) scale(1.053,1)" font-size="7.29" font-weight="bold" font-style="normal" font-family="Liberation Sans" fill="#262626" stroke="#262626" stroke-width="0.25" textLength="12.2" lengthAdjust="spacing">360</text>
<text transform="translate(512.6,249.4) scale(1.004,1)" font-size="7.29" font-weight="bold" font-style="normal" font-family="Liberation Sans" fill="#262626" stroke="#262626" stroke-width="0.25" textLength="12.2" lengthAdjust="spacing">360</text>
<line x1="494.4" y1="266.1" x2="527.1" y2="266.1" stroke="#262626" stroke-width="1.1"/>
<circle cx="494.4" cy="266.1" r="1.2" fill="#262626"/>
<circle cx="527.1" cy="266.1" r="1.2" fill="#262626"/>
<text transform="translate(501.7,264.2) scale(1.165,1)" font-size="8.29" font-weight="bold" font-style="normal" font-family="Liberation Sans" fill="#262626" stroke="#262626" stroke-width="0.25" textLength="13.8" lengthAdjust="spacing">720</text>
<text x="648.8" y="56.1" font-size="10.43" font-weight="bold" font-style="normal" font-family="Liberation Sans" fill="#262626" stroke="#262626" stroke-width="0.3" textLength="6.0" lengthAdjust="spacingAndGlyphs">2</text>
<line x1="661.2" y1="53.6" x2="665.5" y2="53.6" stroke="#262626" stroke-width="1.6"/>
<text x="672.4" y="56.1" font-size="10.43" font-weight="bold" font-style="normal" font-family="Liberation Sans" fill="#262626" stroke="#262626" stroke-width="0.3" textLength="5.8" lengthAdjust="spacingAndGlyphs">2</text>
<line x1="637.7" y1="58.4" x2="694.6" y2="58.4" stroke="#262626" stroke-width="1.6"/>
<text transform="translate(638.1,70.2) scale(1.191,1)" font-size="7.86" font-weight="bold" font-style="normal" font-family="Liberation Sans" fill="#262626" stroke="#262626" stroke-width="0.25" textLength="49.2" lengthAdjust="spacing">ПОВЕРНУТО</text>
<line x1="604.9" y1="123.6" x2="604.9" y2="157.0" stroke="#262626" stroke-width="2.0"/>
<line x1="717.4" y1="124.0" x2="717.4" y2="157.0" stroke="#262626" stroke-width="2.0"/>
<path d="M604.9,123.6 L609.4,123.6 L612.0,144.5 Q612.5,148.5 617,148.5 L705.5,148.7 Q710.2,148.7 710.6,144 L712.6,124 L717.4,124" stroke="#262626" stroke-width="1.4" fill="none"/>
<line x1="604.9" y1="156.0" x2="717.4" y2="156.2" stroke="#262626" stroke-width="2.6"/>
<line x1="604.3" y1="97.1" x2="604.3" y2="123.6" stroke="#262626" stroke-width="0.9"/>
<line x1="610.0" y1="97.1" x2="610.0" y2="123.6" stroke="#262626" stroke-width="0.9"/>
<line x1="603.0" y1="97.1" x2="612.0" y2="97.1" stroke="#262626" stroke-width="1.0"/>
<circle cx="604.3" cy="97.1" r="1.2" fill="#262626"/>
<circle cx="610.0" cy="97.1" r="1.2" fill="#262626"/>
<text transform="translate(607.0,95.5) scale(1.300,1)" font-size="7.86" font-weight="bold" font-style="normal" font-family="Liberation Sans" fill="#262626" stroke="#262626" stroke-width="0.25" textLength="9.5" lengthAdjust="spacing">80</text>
<line x1="712.6" y1="96.6" x2="712.6" y2="124.0" stroke="#262626" stroke-width="0.9"/>
<line x1="717.7" y1="96.6" x2="717.7" y2="124.0" stroke="#262626" stroke-width="0.9"/>
<line x1="711.5" y1="96.6" x2="719.0" y2="96.6" stroke="#262626" stroke-width="1.0"/>
<circle cx="712.6" cy="96.6" r="1.2" fill="#262626"/>
<circle cx="717.7" cy="96.6" r="1.2" fill="#262626"/>
<text transform="translate(708.5,94.6) scale(1.087,1)" font-size="7.86" font-weight="bold" font-style="normal" font-family="Liberation Sans" fill="#262626" stroke="#262626" stroke-width="0.25" textLength="8.7" lengthAdjust="spacing">80</text>
<line x1="576.0" y1="123.6" x2="604.9" y2="123.6" stroke="#262626" stroke-width="0.9"/>
<line x1="576.0" y1="138.1" x2="604.9" y2="138.1" stroke="#262626" stroke-width="0.9"/>
<line x1="576.7" y1="123.6" x2="576.7" y2="138.1" stroke="#262626" stroke-width="0.9"/>
<circle cx="576.7" cy="123.6" r="1.2" fill="#262626"/>
<circle cx="576.7" cy="138.1" r="1.2" fill="#262626"/>
<text transform="translate(572.2,129.2) rotate(-90)" x="-6.2" y="1.9" font-size="5.57" font-weight="bold" font-family="Liberation Sans" fill="#262626" stroke="#262626" stroke-width="0.25" textLength="12.5" lengthAdjust="spacingAndGlyphs">300</text>
<circle cx="606.9" cy="122.1" r="10.3" stroke="#262626" stroke-width="1.0" fill="none"/>
<line x1="618.4" y1="118.9" x2="638.3" y2="108.0" stroke="#262626" stroke-width="1.0"/>
<line x1="638.3" y1="107.8" x2="687.8" y2="107.8" stroke="#262626" stroke-width="1.2"/>
<path d="M660.6,102.0 L662.0,100.6 L662.0,105.3" stroke="#262626" stroke-width="1.4" fill="none"/>
<text x="638.8" y="115.4" font-size="6.86" font-weight="bold" font-family="Liberation Sans" fill="#262626" stroke="#262626" stroke-width="0.25" textLength="50.2" lengthAdjust="spacingAndGlyphs"><tspan font-size="6.86">Д</tspan><tspan font-size="5.49">ОКУМ.</tspan><tspan font-size="6.86"> -126</tspan></text>
<text transform="translate(624.8,130.4) rotate(-43)" x="-9.0" y="2.4" font-size="6.86" font-weight="bold" font-family="Liberation Sans" fill="#262626" stroke="#262626" stroke-width="0.25" textLength="18.0" lengthAdjust="spacingAndGlyphs">2·50</text>
<line x1="613.3" y1="147.0" x2="620.0" y2="141.0" stroke="#262626" stroke-width="1.1"/>
<path d="M614.6,143.0 L613.6,146.6 L617.2,145.6" stroke="#262626" stroke-width="0.9" fill="none"/>
<line x1="717.4" y1="124.0" x2="775.0" y2="124.0" stroke="#262626" stroke-width="0.9"/>
<line x1="717.4" y1="137.7" x2="741.4" y2="137.7" stroke="#262626" stroke-width="0.9"/>
<line x1="717.4" y1="148.7" x2="757.8" y2="148.7" stroke="#262626" stroke-width="0.9"/>
<line x1="717.4" y1="156.9" x2="775.0" y2="156.9" stroke="#262626" stroke-width="0.9"/>
<line x1="741.4" y1="124.0" x2="741.4" y2="137.7" stroke="#262626" stroke-width="0.9"/>
<circle cx="741.4" cy="124.0" r="1.2" fill="#262626"/>
<circle cx="741.4" cy="137.7" r="1.2" fill="#262626"/>
<line x1="757.8" y1="124.0" x2="757.8" y2="157.0" stroke="#262626" stroke-width="0.9"/>
<circle cx="757.8" cy="124.0" r="1.2" fill="#262626"/>
<circle cx="757.8" cy="148.7" r="1.2" fill="#262626"/>
<circle cx="757.8" cy="157.0" r="1.2" fill="#262626"/>
<line x1="774.2" y1="124.0" x2="774.2" y2="157.0" stroke="#262626" stroke-width="0.9"/>
<circle cx="774.2" cy="124.0" r="1.2" fill="#262626"/>
<circle cx="774.2" cy="157.0" r="1.2" fill="#262626"/>
<text transform="translate(736.6,127.5) rotate(-90)" x="-6.2" y="2.2" font-size="6.29" font-weight="bold" font-family="Liberation Sans" fill="#262626" stroke="#262626" stroke-width="0.25" textLength="12.3" lengthAdjust="spacingAndGlyphs">300</text>
<text transform="translate(753.3,132.2) rotate(-90)" x="-6.2" y="2.2" font-size="6.29" font-weight="bold" font-family="Liberation Sans" fill="#262626" stroke="#262626" stroke-width="0.25" textLength="12.4" lengthAdjust="spacingAndGlyphs">600</text>
<text transform="translate(753.3,153.5) rotate(-90)" x="-6.2" y="2.2" font-size="6.29" font-weight="bold" font-family="Liberation Sans" fill="#262626" stroke="#262626" stroke-width="0.25" textLength="12.4" lengthAdjust="spacingAndGlyphs">140</text>
<text transform="translate(769.5,138.1) rotate(-90)" x="-7.9" y="2.8" font-size="8.00" font-weight="bold" font-family="Liberation Sans" fill="#262626" stroke="#262626" stroke-width="0.25" textLength="15.8" lengthAdjust="spacingAndGlyphs">740</text>
<line x1="603.7" y1="157.0" x2="603.7" y2="202.4" stroke="#262626" stroke-width="0.9"/>
<line x1="612.5" y1="157.0" x2="612.5" y2="186.4" stroke="#262626" stroke-width="0.9"/>
<line x1="709.9" y1="157.0" x2="709.9" y2="186.4" stroke="#262626" stroke-width="0.9"/>
<line x1="718.4" y1="157.0" x2="718.4" y2="202.4" stroke="#262626" stroke-width="0.9"/>
<line x1="603.4" y1="186.4" x2="718.6" y2="186.4" stroke="#262626" stroke-width="1.0"/>
<circle cx="603.7" cy="186.4" r="1.2" fill="#262626"/>
<circle cx="612.5" cy="186.4" r="1.2" fill="#262626"/>
<circle cx="709.9" cy="186.4" r="1.2" fill="#262626"/>
<circle cx="718.4" cy="186.4" r="1.2" fill="#262626"/>
<text x="607.4" y="184.8" font-size="8.43" font-weight="bold" font-style="normal" font-family="Liberation Sans" fill="#262626" stroke="#262626" stroke-width="0.25" textLength="13.4" lengthAdjust="spacingAndGlyphs">140</text>
<text transform="translate(651.9,184.8) scale(1.067,1)" font-size="8.43" font-weight="bold" font-style="normal" font-family="Liberation Sans" fill="#262626" stroke="#262626" stroke-width="0.25" textLength="18.7" lengthAdjust="spacing">2180</text>
<text x="711.2" y="184.8" font-size="8.43" font-weight="bold" font-style="normal" font-family="Liberation Sans" fill="#262626" stroke="#262626" stroke-width="0.25" textLength="13.3" lengthAdjust="spacingAndGlyphs">140</text>
<line x1="603.4" y1="202.4" x2="718.6" y2="202.4" stroke="#262626" stroke-width="1.0"/>
<circle cx="603.7" cy="202.4" r="1.2" fill="#262626"/>
<circle cx="718.4" cy="202.4" r="1.2" fill="#262626"/>
<text transform="translate(650.4,201.1) scale(1.300,1)" font-size="8.43" font-weight="bold" font-style="normal" font-family="Liberation Sans" fill="#262626" stroke="#262626" stroke-width="0.25" textLength="20.5" lengthAdjust="spacing">2460</text>
<text x="750.3" y="177.7" font-size="10.29" font-weight="bold" font-style="normal" font-family="Liberation Sans" fill="#262626" stroke="#262626" stroke-width="0.25" textLength="4.5" lengthAdjust="spacingAndGlyphs">П</text>
<text transform="translate(755.5,177.7) scale(1.010,1)" font-size="7.00" font-weight="bold" font-style="normal" font-family="Liberation Sans" fill="#262626" stroke="#262626" stroke-width="0.25" textLength="18.7" lengthAdjust="spacing">ЕТЛЯ</text>
<line x1="749.3" y1="179.8" x2="782.6" y2="179.8" stroke="#262626" stroke-width="1.1"/>
<line x1="612.0" y1="158.7" x2="749.3" y2="179.8" stroke="#262626" stroke-width="0.9"/>
<line x1="711.3" y1="157.7" x2="749.3" y2="179.8" stroke="#262626" stroke-width="0.9"/>
<line x1="586.2" y1="226.7" x2="805.0" y2="226.8" stroke="#262626" stroke-width="1.5"/>
<line x1="586.2" y1="226.7" x2="586.5" y2="428.3" stroke="#262626" stroke-width="1.4"/>
<line x1="586.2" y1="428.1" x2="805.0" y2="427.6" stroke="#262626" stroke-width="1.6"/>
<line x1="586.2" y1="255.8" x2="805.0" y2="255.4" stroke="#262626" stroke-width="1.5"/>
<line x1="668.0" y1="226.7" x2="668.0" y2="428.0" stroke="#262626" stroke-width="1.3"/>
<line x1="715.2" y1="226.7" x2="715.2" y2="428.0" stroke="#262626" stroke-width="1.3"/>
<line x1="760.0" y1="226.7" x2="760.0" y2="428.0" stroke="#262626" stroke-width="1.3"/>
<line x1="586.2" y1="271.2" x2="668.0" y2="271.2" stroke="#262626" stroke-width="1.2"/>
<line x1="586.2" y1="285.7" x2="668.0" y2="285.7" stroke="#262626" stroke-width="1.2"/>
<line x1="586.2" y1="299.5" x2="668.0" y2="299.5" stroke="#262626" stroke-width="1.2"/>
<line x1="586.2" y1="314.0" x2="668.0" y2="314.0" stroke="#262626" stroke-width="1.2"/>
<line x1="586.2" y1="328.5" x2="668.0" y2="328.5" stroke="#262626" stroke-width="1.2"/>
<line x1="586.2" y1="356.9" x2="668.0" y2="356.9" stroke="#262626" stroke-width="1.2"/>
<line x1="586.2" y1="371.5" x2="668.0" y2="371.5" stroke="#262626" stroke-width="1.2"/>
<line x1="586.2" y1="386.0" x2="668.0" y2="386.0" stroke="#262626" stroke-width="1.2"/>
<line x1="586.2" y1="400.1" x2="668.0" y2="400.1" stroke="#262626" stroke-width="1.2"/>
<line x1="586.2" y1="414.3" x2="668.0" y2="414.3" stroke="#262626" stroke-width="1.2"/>
<line x1="586.2" y1="342.3" x2="805.0" y2="341.6" stroke="#262626" stroke-width="1.5"/>
<line x1="668.0" y1="285.8" x2="715.2" y2="285.8" stroke="#262626" stroke-width="1.2"/>
<line x1="668.0" y1="300.0" x2="715.2" y2="300.0" stroke="#262626" stroke-width="1.2"/>
<line x1="668.0" y1="371.2" x2="715.2" y2="371.2" stroke="#262626" stroke-width="1.2"/>
<line x1="668.0" y1="386.0" x2="715.2" y2="386.0" stroke="#262626" stroke-width="1.2"/>
<text transform="translate(611.4,240.4) scale(1.048,1)" font-size="7.57" font-weight="bold" font-style="normal" font-family="Liberation Sans" fill="#262626" stroke="#262626" stroke-width="0.25" textLength="26.9" lengthAdjust="spacing">МАРКА</text>
<text transform="translate(609.0,250.4) scale(1.300,1)" font-size="6.86" font-weight="bold" font-style="normal" font-family="Liberation Sans" fill="#262626" stroke="#262626" stroke-width="0.25" textLength="23.5" lengthAdjust="spacing">ЛОТКА</text>
<text transform="translate(676.8,239.8) scale(1.211,1)" font-size="6.29" font-weight="bold" font-style="normal" font-family="Liberation Sans" fill="#262626" stroke="#262626" stroke-width="0.25" textLength="21.7" lengthAdjust="spacing">КЛАСС</text>
<text transform="translate(674.4,250.0) scale(1.081,1)" font-size="6.86" font-weight="bold" font-style="normal" font-family="Liberation Sans" fill="#262626" stroke="#262626" stroke-width="0.25" textLength="28.8" lengthAdjust="spacing">БЕТОНА</text>
<text x="723.9" y="234.8" font-size="6.86" font-weight="bold" font-style="normal" font-family="Liberation Sans" fill="#262626" stroke="#262626" stroke-width="0.25" textLength="25.5" lengthAdjust="spacingAndGlyphs">ОБЪЕМ</text>
<text transform="translate(721.5,243.6) scale(1.093,1)" font-size="6.86" font-weight="bold" font-style="normal" font-family="Liberation Sans" fill="#262626" stroke="#262626" stroke-width="0.25" textLength="30.7" lengthAdjust="spacing">БЕТОНА,</text>
<text transform="translate(730.3,250.7) scale(1.300,1)" font-size="6.71" font-weight="bold" font-style="normal" font-family="Liberation Sans" fill="#262626" stroke="#262626" stroke-width="0.25" textLength="9.8" lengthAdjust="spacing">М³</text>
<text x="771.0" y="240.4" font-size="8.00" font-weight="bold" font-style="normal" font-family="Liberation Sans" fill="#262626" stroke="#262626" stroke-width="0.25" textLength="27.9" lengthAdjust="spacingAndGlyphs">МАССА,</text>
<text x="779.8" y="250.0" font-size="6.86" font-weight="bold" font-style="normal" font-family="Liberation Sans" fill="#262626" stroke="#262626" stroke-width="0.25" textLength="4.1" lengthAdjust="spacingAndGlyphs">Т</text>
<text transform="translate(591.3,267.1) scale(1.300,1)" font-size="8.57" font-weight="bold" font-style="normal" font-family="Liberation Sans" fill="#262626" textLength="56.4" lengthAdjust="spacing">Л23-3; Л23-3а</text>
<text transform="translate(591.3,282.1) scale(1.300,1)" font-size="8.57" font-weight="bold" font-style="normal" font-family="Liberation Sans" fill="#262626" textLength="56.4" lengthAdjust="spacing">Л23-5; Л23-5а</text>
<text transform="translate(591.3,296.2) scale(1.248,1)" font-size="8.57" font-weight="bold" font-style="normal" font-family="Liberation Sans" fill="#262626" textLength="58.7" lengthAdjust="spacing">Л23-8 ; Л23-8а</text>
<text transform="translate(591.3,310.4) scale(1.129,1)" font-size="8.57" font-weight="bold" font-style="normal" font-family="Liberation Sans" fill="#262626" textLength="64.9" lengthAdjust="spacing">Л23-11; Л23-11а</text>
<text transform="translate(591.3,324.9) scale(1.113,1)" font-size="8.57" font-weight="bold" font-style="normal" font-family="Liberation Sans" fill="#262626" textLength="65.9" lengthAdjust="spacing">Л23-12; Л23-12а</text>
<text transform="translate(591.3,339.0) scale(1.113,1)" font-size="8.57" font-weight="bold" font-style="normal" font-family="Liberation Sans" fill="#262626" textLength="65.9" lengthAdjust="spacing">Л23-15; Л23-15а</text>
<text transform="translate(609.5,352.4) scale(1.093,1)" font-size="8.57" font-weight="bold" font-style="normal" font-family="Liberation Sans" fill="#262626" stroke="#262626" stroke-width="0.1" textLength="15.5" lengthAdjust="spacing">Л23</text>
<text x="627.1" y="355.2" font-size="11.32" font-weight="bold" font-style="normal" font-family="Liberation Sans" fill="#262626" stroke="#262626" stroke-width="0.1" textLength="5.2" lengthAdjust="spacingAndGlyphs">д</text>
<text transform="translate(634.0,352.4) scale(1.234,1)" font-size="8.57" font-weight="bold" font-style="normal" font-family="Liberation Sans" fill="#262626" stroke="#262626" stroke-width="0.1" textLength="7.6" lengthAdjust="spacing">-3</text>
<text transform="translate(609.5,367.0) scale(1.093,1)" font-size="8.57" font-weight="bold" font-style="normal" font-family="Liberation Sans" fill="#262626" stroke="#262626" stroke-width="0.1" textLength="15.5" lengthAdjust="spacing">Л23</text>
<text x="627.1" y="369.8" font-size="11.32" font-weight="bold" font-style="normal" font-family="Liberation Sans" fill="#262626" stroke="#262626" stroke-width="0.1" textLength="5.2" lengthAdjust="spacingAndGlyphs">д</text>
<text transform="translate(634.0,367.0) scale(1.234,1)" font-size="8.57" font-weight="bold" font-style="normal" font-family="Liberation Sans" fill="#262626" stroke="#262626" stroke-width="0.1" textLength="7.6" lengthAdjust="spacing">-5</text>
<text transform="translate(609.5,381.6) scale(1.093,1)" font-size="8.57" font-weight="bold" font-style="normal" font-family="Liberation Sans" fill="#262626" stroke="#262626" stroke-width="0.1" textLength="15.5" lengthAdjust="spacing">Л23</text>
<text x="627.1" y="384.4" font-size="11.32" font-weight="bold" font-style="normal" font-family="Liberation Sans" fill="#262626" stroke="#262626" stroke-width="0.1" textLength="5.2" lengthAdjust="spacingAndGlyphs">д</text>
<text transform="translate(634.0,381.6) scale(1.234,1)" font-size="8.57" font-weight="bold" font-style="normal" font-family="Liberation Sans" fill="#262626" stroke="#262626" stroke-width="0.1" textLength="7.6" lengthAdjust="spacing">-8</text>
<text transform="translate(609.5,395.9) scale(1.093,1)" font-size="8.57" font-weight="bold" font-style="normal" font-family="Liberation Sans" fill="#262626" stroke="#262626" stroke-width="0.1" textLength="15.5" lengthAdjust="spacing">Л23</text>
<text x="627.1" y="398.7" font-size="11.32" font-weight="bold" font-style="normal" font-family="Liberation Sans" fill="#262626" stroke="#262626" stroke-width="0.1" textLength="5.2" lengthAdjust="spacingAndGlyphs">д</text>
<text transform="translate(634.0,395.9) scale(1.091,1)" font-size="8.57" font-weight="bold" font-style="normal" font-family="Liberation Sans" fill="#262626" stroke="#262626" stroke-width="0.1" textLength="11.9" lengthAdjust="spacing">-11</text>
<text transform="translate(609.5,410.0) scale(1.093,1)" font-size="8.57" font-weight="bold" font-style="normal" font-family="Liberation Sans" fill="#262626" stroke="#262626" stroke-width="0.1" textLength="15.5" lengthAdjust="spacing">Л23</text>
<text x="627.1" y="412.8" font-size="11.32" font-weight="bold" font-style="normal" font-family="Liberation Sans" fill="#262626" stroke="#262626" stroke-width="0.1" textLength="5.2" lengthAdjust="spacingAndGlyphs">д</text>
<text transform="translate(634.0,410.0) scale(1.049,1)" font-size="8.57" font-weight="bold" font-style="normal" font-family="Liberation Sans" fill="#262626" stroke="#262626" stroke-width="0.1" textLength="12.4" lengthAdjust="spacing">-12</text>
<text transform="translate(609.5,424.1) scale(1.093,1)" font-size="8.57" font-weight="bold" font-style="normal" font-family="Liberation Sans" fill="#262626" stroke="#262626" stroke-width="0.1" textLength="15.5" lengthAdjust="spacing">Л23</text>
<text x="627.1" y="426.9" font-size="11.32" font-weight="bold" font-style="normal" font-family="Liberation Sans" fill="#262626" stroke="#262626" stroke-width="0.1" textLength="5.2" lengthAdjust="spacingAndGlyphs">д</text>
<text transform="translate(634.0,424.1) scale(1.049,1)" font-size="8.57" font-weight="bold" font-style="normal" font-family="Liberation Sans" fill="#262626" stroke="#262626" stroke-width="0.1" textLength="12.4" lengthAdjust="spacing">-15</text>
<text x="684.8" y="274.4" font-size="8.43" font-weight="bold" font-style="normal" font-family="Liberation Sans" fill="#262626" stroke="#262626" stroke-width="0.25" textLength="14.3" lengthAdjust="spacingAndGlyphs">В15</text>
<text transform="translate(684.8,295.9) scale(1.030,1)" font-size="7.57" font-weight="bold" font-style="normal" font-family="Liberation Sans" fill="#262626" stroke="#262626" stroke-width="0.25" textLength="13.9" lengthAdjust="spacing">В25</text>
<text transform="translate(684.8,323.0) scale(1.028,1)" font-size="8.43" font-weight="bold" font-style="normal" font-family="Liberation Sans" fill="#262626" stroke="#262626" stroke-width="0.25" textLength="15.5" lengthAdjust="spacing">В30</text>
<text transform="translate(727.9,296.5) scale(1.247,1)" font-size="8.86" font-weight="bold" font-style="normal" font-family="Liberation Sans" fill="#262626" stroke="#262626" stroke-width="0.25" textLength="17.2" lengthAdjust="spacing">2,84</text>
<text transform="translate(771.8,296.5) scale(1.062,1)" font-size="8.86" font-weight="bold" font-style="normal" font-family="Liberation Sans" fill="#262626" stroke="#262626" stroke-width="0.25" textLength="17.2" lengthAdjust="spacing">7,10</text>
<text x="682.4" y="360.8" font-size="9.71" font-weight="bold" font-style="normal" font-family="Liberation Sans" fill="#262626" stroke="#262626" stroke-width="0.25" textLength="15.1" lengthAdjust="spacingAndGlyphs">В15</text>
<text x="682.4" y="381.5" font-size="9.14" font-weight="bold" font-style="normal" font-family="Liberation Sans" fill="#262626" stroke="#262626" stroke-width="0.25" textLength="15.9" lengthAdjust="spacingAndGlyphs">В25</text>
<text transform="translate(684.0,410.2) scale(1.012,1)" font-size="9.00" font-weight="bold" font-style="normal" font-family="Liberation Sans" fill="#262626" stroke="#262626" stroke-width="0.25" textLength="16.5" lengthAdjust="spacing">В30</text>
<text transform="translate(726.3,381.5) scale(1.068,1)" font-size="9.57" font-weight="bold" font-style="normal" font-family="Liberation Sans" fill="#262626" stroke="#262626" stroke-width="0.25" textLength="18.6" lengthAdjust="spacing">0,36</text>
<text transform="translate(772.6,381.5) scale(1.025,1)" font-size="9.57" font-weight="bold" font-style="normal" font-family="Liberation Sans" fill="#262626" stroke="#262626" stroke-width="0.25" textLength="18.6" lengthAdjust="spacing">0,90</text>
<path d="M267.3,299.8 L268.8,298.3 L268.8,305.9" stroke="#262626" stroke-width="1.7" fill="none"/>
<line x1="276.1" y1="302.6" x2="285.1" y2="302.6" stroke="#262626" stroke-width="1.7"/>
<path d="M291.8,299.8 L293.2,298.3 L293.2,305.9" stroke="#262626" stroke-width="1.7" fill="none"/>
<line x1="258.3" y1="309.1" x2="304.6" y2="309.1" stroke="#262626" stroke-width="1.6"/>
<text x="275.8" y="320.7" font-size="9.00" font-weight="bold" font-style="normal" font-family="Liberation Sans" fill="#262626" stroke="#262626" stroke-width="0.25" textLength="4.7" lengthAdjust="spacingAndGlyphs">О</text>
<text x="281.0" y="320.7" font-size="6.71" font-weight="bold" font-style="normal" font-family="Liberation Sans" fill="#262626" stroke="#262626" stroke-width="0.25" textLength="34.0" lengthAdjust="spacingAndGlyphs">ТВЕРСТИЕ</text>
<text transform="translate(318.0,320.7) scale(1.058,1)" font-size="9.00" font-weight="bold" font-style="normal" font-family="Liberation Sans" fill="#262626" stroke="#262626" stroke-width="0.25" textLength="17.0" lengthAdjust="spacing">Ø40</text>
<line x1="274.5" y1="322.5" x2="327.9" y2="322.5" stroke="#262626" stroke-width="1.2"/>
<line x1="327.9" y1="322.5" x2="370.5" y2="389.8" stroke="#262626" stroke-width="0.9"/>
<text x="255.3" y="328.4" font-size="8.57" font-weight="bold" font-style="normal" font-family="Liberation Sans" fill="#262626" stroke="#262626" stroke-width="0.25" textLength="5.2" lengthAdjust="spacingAndGlyphs">3</text>
<line x1="234.0" y1="330.4" x2="280.1" y2="330.4" stroke="#262626" stroke-width="1.2"/>
<line x1="234.0" y1="330.4" x2="221.1" y2="358.3" stroke="#262626" stroke-width="0.9"/>
<text x="236.9" y="338.4" font-size="6.86" font-weight="bold" font-family="Liberation Sans" fill="#262626" stroke="#262626" stroke-width="0.25" textLength="45.2" lengthAdjust="spacingAndGlyphs"><tspan font-size="6.86">Д</tspan><tspan font-size="5.49">ОКУМ.</tspan><tspan font-size="6.86">-126</tspan></text>
<text x="252.5" y="349.2" font-size="8.86" font-weight="bold" font-style="normal" font-family="Liberation Sans" fill="#262626" stroke="#262626" stroke-width="0.25" textLength="3.5" lengthAdjust="spacingAndGlyphs">И</text>
<text transform="translate(256.5,349.2) scale(1.165,1)" font-size="6.00" font-weight="bold" font-style="normal" font-family="Liberation Sans" fill="#262626" stroke="#262626" stroke-width="0.25" textLength="24.6" lengthAdjust="spacing">ЗДЕЛИЕ</text>
<text transform="translate(291.6,349.2) scale(1.050,1)" font-size="6.00" font-weight="bold" font-style="normal" font-family="Liberation Sans" fill="#262626" stroke="#262626" stroke-width="0.25" textLength="37.8" lengthAdjust="spacing">ЗАКЛАДНОЕ</text>
<line x1="237.5" y1="350.8" x2="331.6" y2="350.8" stroke="#262626" stroke-width="1.2"/>
<line x1="237.4" y1="351.1" x2="214.0" y2="375.5" stroke="#262626" stroke-width="0.9"/>
<line x1="333.1" y1="351.1" x2="345.0" y2="370.0" stroke="#262626" stroke-width="0.9"/>
<text transform="translate(252.5,357.7) scale(1.189,1)" font-size="6.00" font-weight="bold" font-style="normal" font-family="Liberation Sans" fill="#262626" stroke="#262626" stroke-width="0.25" textLength="24.9" lengthAdjust="spacing">ТОЛЬКО</text>
<text x="287.1" y="357.7" font-size="6.00" font-weight="bold" font-style="normal" font-family="Liberation Sans" fill="#262626" stroke="#262626" stroke-width="0.25" textLength="10.1" lengthAdjust="spacingAndGlyphs">ДЛЯ</text>
<text transform="translate(304.2,357.7) scale(1.075,1)" font-size="6.00" font-weight="bold" font-style="normal" font-family="Liberation Sans" fill="#262626" stroke="#262626" stroke-width="0.25" textLength="25.2" lengthAdjust="spacing">ЛОТКОВ</text>
<text x="252.5" y="364.7" font-size="5.86" font-weight="bold" font-style="normal" font-family="Liberation Sans" fill="#262626" stroke="#262626" stroke-width="0.25" textLength="3.5" lengthAdjust="spacingAndGlyphs">С</text>
<text transform="translate(261.0,364.7) scale(1.273,1)" font-size="5.86" font-weight="bold" font-style="normal" font-family="Liberation Sans" fill="#262626" stroke="#262626" stroke-width="0.25" textLength="33.5" lengthAdjust="spacing">ИНДЕКСОМ</text>
<text transform="translate(311.2,364.7) scale(1.275,1)" font-size="6.71" font-weight="bold" font-style="normal" font-family="Liberation Sans" fill="#262626" stroke="#262626" stroke-width="0.25" textLength="10.3" lengthAdjust="spacing">„а"</text>
<line x1="143.6" y1="334.5" x2="212.4" y2="334.5" stroke="#262626" stroke-width="1.1"/>
<circle cx="143.6" cy="334.5" r="1.2" fill="#262626"/>
<circle cx="212.4" cy="334.5" r="1.2" fill="#262626"/>
<text transform="translate(171.0,333.6) scale(1.203,1)" font-size="8.00" font-weight="bold" font-style="normal" font-family="Liberation Sans" fill="#262626" stroke="#262626" stroke-width="0.25" textLength="17.8" lengthAdjust="spacing">1485</text>
<line x1="143.6" y1="350.2" x2="190.6" y2="350.2" stroke="#262626" stroke-width="1.1"/>
<circle cx="143.6" cy="350.2" r="1.2" fill="#262626"/>
<circle cx="190.6" cy="350.2" r="1.2" fill="#262626"/>
<text transform="translate(159.0,349.0) scale(1.300,1)" font-size="7.29" font-weight="bold" font-style="normal" font-family="Liberation Sans" fill="#262626" stroke="#262626" stroke-width="0.25" textLength="16.5" lengthAdjust="spacing">1000</text>
<line x1="190.6" y1="350.2" x2="190.3" y2="389.3" stroke="#262626" stroke-width="0.9"/>
<line x1="212.2" y1="334.5" x2="212.2" y2="376.0" stroke="#262626" stroke-width="0.9"/>
<line x1="348.9" y1="335.1" x2="417.3" y2="335.1" stroke="#262626" stroke-width="1.1"/>
<circle cx="348.9" cy="335.1" r="1.2" fill="#262626"/>
<circle cx="417.0" cy="335.1" r="1.2" fill="#262626"/>
<text transform="translate(369.0,334.5) scale(1.248,1)" font-size="8.00" font-weight="bold" font-style="normal" font-family="Liberation Sans" fill="#262626" stroke="#262626" stroke-width="0.25" textLength="17.8" lengthAdjust="spacing">1485</text>
<line x1="370.5" y1="350.7" x2="417.3" y2="350.7" stroke="#262626" stroke-width="1.1"/>
<circle cx="370.5" cy="350.7" r="1.2" fill="#262626"/>
<circle cx="417.0" cy="350.7" r="1.2" fill="#262626"/>
<text transform="translate(384.5,349.5) scale(1.150,1)" font-size="7.86" font-weight="bold" font-style="normal" font-family="Liberation Sans" fill="#262626" stroke="#262626" stroke-width="0.25" textLength="17.5" lengthAdjust="spacing">1000</text>
<line x1="348.9" y1="335.1" x2="348.9" y2="377.0" stroke="#262626" stroke-width="0.9"/>
<line x1="370.5" y1="350.7" x2="371.0" y2="388.0" stroke="#262626" stroke-width="0.9"/>
<line x1="143.8" y1="376.6" x2="417.3" y2="376.8" stroke="#262626" stroke-width="1.4"/>
<line x1="147.0" y1="378.9" x2="414.6" y2="379.1" stroke="#262626" stroke-width="1.1" stroke-dasharray="6,3"/>
<line x1="146.2" y1="404.8" x2="417.3" y2="404.7" stroke="#262626" stroke-width="1.4"/>
<line x1="143.8" y1="408.6" x2="417.3" y2="408.6" stroke="#262626" stroke-width="1.6"/>
<line x1="143.8" y1="334.5" x2="143.8" y2="453.5" stroke="#262626" stroke-width="1.2"/>
<line x1="146.2" y1="378.5" x2="146.2" y2="404.8" stroke="#262626" stroke-width="1.0"/>
<line x1="417.3" y1="335.1" x2="417.3" y2="453.5" stroke="#262626" stroke-width="1.3"/>
<line x1="414.6" y1="379.0" x2="414.6" y2="404.5" stroke="#262626" stroke-width="1.0" stroke-dasharray="4,2"/>
<circle cx="190.1" cy="391.3" r="2.0" stroke="#262626" stroke-width="1.0" fill="none"/>
<circle cx="371.2" cy="390.1" r="2.0" stroke="#262626" stroke-width="1.0" fill="none"/>
<line x1="122.2" y1="391.3" x2="188.0" y2="391.3" stroke="#262626" stroke-width="0.9"/>
<line x1="373.2" y1="390.1" x2="442.4" y2="390.1" stroke="#262626" stroke-width="0.9"/>
<line x1="121.5" y1="375.8" x2="121.5" y2="390.0" stroke="#262626" stroke-width="0.9"/>
<circle cx="121.5" cy="376.0" r="1.2" fill="#262626"/>
<circle cx="121.5" cy="390.0" r="1.2" fill="#262626"/>
<text transform="translate(118.0,379.5) rotate(-90)" x="-5.5" y="1.9" font-size="5.29" font-weight="bold" font-family="Liberation Sans" fill="#262626" stroke="#262626" stroke-width="0.25" textLength="10.9" lengthAdjust="spacingAndGlyphs">500</text>
<line x1="105.8" y1="375.5" x2="105.8" y2="408.5" stroke="#262626" stroke-width="0.9"/>
<circle cx="105.8" cy="375.5" r="1.2" fill="#262626"/>
<circle cx="105.8" cy="408.5" r="1.2" fill="#262626"/>
<line x1="105.8" y1="375.5" x2="141.0" y2="375.5" stroke="#262626" stroke-width="0.9"/>
<line x1="105.8" y1="408.4" x2="131.0" y2="408.4" stroke="#262626" stroke-width="0.9"/>
<text transform="translate(102.1,391.9) rotate(-90)" x="-7.5" y="2.1" font-size="6.00" font-weight="bold" font-family="Liberation Sans" fill="#262626" stroke="#262626" stroke-width="0.25" textLength="15.0" lengthAdjust="spacingAndGlyphs">740</text>
<line x1="442.0" y1="376.8" x2="442.0" y2="390.1" stroke="#262626" stroke-width="0.9"/>
<circle cx="442.0" cy="377.0" r="1.2" fill="#262626"/>
<circle cx="442.0" cy="390.1" r="1.2" fill="#262626"/>
<line x1="417.3" y1="376.8" x2="444.0" y2="376.8" stroke="#262626" stroke-width="0.9"/>
<text transform="translate(438.6,377.9) rotate(-90)" x="-5.5" y="1.9" font-size="5.29" font-weight="bold" font-family="Liberation Sans" fill="#262626" stroke="#262626" stroke-width="0.25" textLength="10.9" lengthAdjust="spacingAndGlyphs">500</text>
<circle cx="144.1" cy="407.0" r="11.2" stroke="#262626" stroke-width="1.1" fill="none"/>
<circle cx="212.0" cy="378.0" r="11.0" stroke="#262626" stroke-width="1.0" fill="none"/>
<line x1="214.5" y1="399.0" x2="214.5" y2="438.3" stroke="#262626" stroke-width="1.0"/>
<rect x="212.0" y="408.8" width="5.0" height="2.7" stroke="#262626" stroke-width="1.0" fill="none"/>
<line x1="346.7" y1="404.0" x2="346.7" y2="438.4" stroke="#262626" stroke-width="1.0"/>
<circle cx="346.7" cy="410.5" r="2.0" stroke="#262626" stroke-width="1.0" fill="none"/>
<rect x="344.3" y="376.9" width="9.4" height="4.1" stroke="#262626" stroke-width="1.0" fill="none"/>
<line x1="143.8" y1="438.3" x2="214.5" y2="438.3" stroke="#262626" stroke-width="1.1"/>
<circle cx="143.8" cy="438.3" r="1.2" fill="#262626"/>
<circle cx="214.5" cy="438.3" r="1.2" fill="#262626"/>
<text transform="translate(166.7,437.2) scale(1.300,1)" font-size="6.43" font-weight="bold" font-style="normal" font-family="Liberation Sans" fill="#262626" stroke="#262626" stroke-width="0.25" textLength="16.4" lengthAdjust="spacing">1500</text>
<line x1="346.7" y1="438.4" x2="417.3" y2="438.4" stroke="#262626" stroke-width="1.1"/>
<circle cx="346.7" cy="438.4" r="1.2" fill="#262626"/>
<circle cx="417.0" cy="438.4" r="1.2" fill="#262626"/>
<text transform="translate(369.0,437.0) scale(1.300,1)" font-size="6.57" font-weight="bold" font-style="normal" font-family="Liberation Sans" fill="#262626" stroke="#262626" stroke-width="0.25" textLength="16.9" lengthAdjust="spacing">1500</text>
<line x1="143.8" y1="453.0" x2="417.3" y2="453.2" stroke="#262626" stroke-width="0.9"/>
<circle cx="143.8" cy="453.0" r="1.2" fill="#262626"/>
<circle cx="417.0" cy="453.2" r="1.2" fill="#262626"/>
<text transform="translate(266.1,452.6) scale(1.292,1)" font-size="9.43" font-weight="bold" font-style="normal" font-family="Liberation Sans" fill="#262626" stroke="#262626" stroke-width="0.25" textLength="21.0" lengthAdjust="spacing">5970</text>
<text x="111.0" y="430.2" font-size="7.86" font-weight="bold" font-style="normal" font-family="Liberation Sans" fill="#262626" stroke="#262626" stroke-width="0.25" textLength="4.8" lengthAdjust="spacingAndGlyphs">2</text>
<line x1="98.7" y1="432.7" x2="129.5" y2="432.7" stroke="#262626" stroke-width="1.2"/>
<line x1="129.5" y1="432.7" x2="138.4" y2="418.6" stroke="#262626" stroke-width="0.9"/>
<text x="93.9" y="440.5" font-size="7.14" font-weight="bold" font-family="Liberation Sans" fill="#262626" stroke="#262626" stroke-width="0.25" textLength="42.4" lengthAdjust="spacingAndGlyphs"><tspan font-size="7.14">Д</tspan><tspan font-size="5.71">ОКУМ.</tspan><tspan font-size="7.14">-126</tspan></text>
<text x="235.3" y="428.1" font-size="9.86" font-weight="bold" font-style="normal" font-family="Liberation Sans" fill="#262626" stroke="#262626" stroke-width="0.25" textLength="4.5" lengthAdjust="spacingAndGlyphs">П</text>
<text transform="translate(240.5,428.1) scale(1.058,1)" font-size="6.86" font-weight="bold" font-style="normal" font-family="Liberation Sans" fill="#262626" stroke="#262626" stroke-width="0.25" textLength="18.3" lengthAdjust="spacing">ЕТЛЯ</text>
<line x1="235.0" y1="429.0" x2="266.7" y2="429.0" stroke="#262626" stroke-width="1.2"/>
<line x1="218.2" y1="414.4" x2="233.1" y2="428.6" stroke="#262626" stroke-width="0.9"/>
<text x="450.3" y="428.6" font-size="9.14" font-weight="bold" font-style="normal" font-family="Liberation Sans" fill="#262626" stroke="#262626" stroke-width="0.25" textLength="5.1" lengthAdjust="spacingAndGlyphs">2</text>
<line x1="431.3" y1="430.7" x2="478.5" y2="430.7" stroke="#262626" stroke-width="1.2"/>
<line x1="478.5" y1="430.7" x2="487.5" y2="417.0" stroke="#262626" stroke-width="0.9"/>
<text x="431.3" y="438.4" font-size="7.14" font-weight="bold" font-family="Liberation Sans" fill="#262626" stroke="#262626" stroke-width="0.25" textLength="49.8" lengthAdjust="spacingAndGlyphs"><tspan font-size="7.14">Д</tspan><tspan font-size="5.71">ОКУМ.</tspan><tspan font-size="7.14"> -126</tspan></text>
<text x="494.7" y="305.8" font-size="11.14" font-weight="bold" font-style="normal" font-family="Liberation Sans" fill="#262626" stroke="#262626" stroke-width="0.3" textLength="5.3" lengthAdjust="spacingAndGlyphs">3</text>
<line x1="507.6" y1="302.7" x2="513.5" y2="302.7" stroke="#262626" stroke-width="1.7"/>
<text x="520.7" y="305.8" font-size="11.14" font-weight="bold" font-style="normal" font-family="Liberation Sans" fill="#262626" stroke="#262626" stroke-width="0.3" textLength="5.7" lengthAdjust="spacingAndGlyphs">3</text>
<line x1="489.1" y1="308.6" x2="533.6" y2="308.6" stroke="#262626" stroke-width="1.6"/>
<text x="471.4" y="328.5" font-size="9.14" font-weight="bold" font-style="normal" font-family="Liberation Sans" fill="#262626" stroke="#262626" stroke-width="0.25" textLength="3.4" lengthAdjust="spacingAndGlyphs">О</text>
<text transform="translate(475.5,328.5) scale(1.241,1)" font-size="5.57" font-weight="bold" font-style="normal" font-family="Liberation Sans" fill="#262626" stroke="#262626" stroke-width="0.25" textLength="29.7" lengthAdjust="spacing">ТВЕРСТИЕ</text>
<text transform="translate(516.1,328.5) scale(1.300,1)" font-size="7.86" font-weight="bold" font-style="normal" font-family="Liberation Sans" fill="#262626" stroke="#262626" stroke-width="0.25" textLength="15.8" lengthAdjust="spacing">Ø40</text>
<line x1="466.8" y1="331.5" x2="537.5" y2="331.5" stroke="#262626" stroke-width="1.2"/>
<line x1="466.8" y1="331.5" x2="494.6" y2="369.2" stroke="#262626" stroke-width="0.9" stroke-dasharray="4,2"/>
<line x1="498.0" y1="376.7" x2="510.3" y2="390.4" stroke="#262626" stroke-width="0.9"/>
<line x1="493.3" y1="343.0" x2="493.3" y2="376.7" stroke="#262626" stroke-width="0.9" stroke-dasharray="5,2"/>
<line x1="528.1" y1="349.0" x2="528.1" y2="376.7" stroke="#262626" stroke-width="0.9"/>
<line x1="493.2" y1="350.1" x2="528.6" y2="350.1" stroke="#262626" stroke-width="1.1"/>
<circle cx="493.3" cy="350.1" r="1.2" fill="#262626"/>
<circle cx="510.3" cy="350.1" r="1.2" fill="#262626"/>
<circle cx="528.1" cy="350.1" r="1.2" fill="#262626"/>
<text transform="translate(496.0,348.0) scale(1.300,1)" font-size="6.86" font-weight="bold" font-style="normal" font-family="Liberation Sans" fill="#262626" stroke="#262626" stroke-width="0.25" textLength="11.5" lengthAdjust="spacing">360</text>
<text transform="translate(513.0,348.0) scale(1.300,1)" font-size="6.86" font-weight="bold" font-style="normal" font-family="Liberation Sans" fill="#262626" stroke="#262626" stroke-width="0.25" textLength="13.2" lengthAdjust="spacing">360</text>
<path d="M493.5,376.7 L527.4,376.7 L527.4,404.8 L526,404.8 L526,408.9 L496,408.9 L496,404.8 L493.5,404.8 Z" stroke="#262626" stroke-width="1.3" fill="none"/>
<line x1="496.0" y1="404.8" x2="526.0" y2="404.8" stroke="#262626" stroke-width="1.2"/>
<line x1="493.5" y1="378.3" x2="527.4" y2="378.3" stroke="#262626" stroke-width="1.1" stroke-dasharray="4,2"/>
<line x1="496.0" y1="390.0" x2="496.0" y2="404.0" stroke="#262626" stroke-width="1.0" stroke-dasharray="4,2"/>
<line x1="525.4" y1="390.0" x2="525.4" y2="404.0" stroke="#262626" stroke-width="1.0" stroke-dasharray="4,2"/>
<line x1="510.3" y1="350.0" x2="510.3" y2="445.0" stroke="#262626" stroke-width="0.9" stroke-dasharray="10,2,2,2"/>
<circle cx="510.3" cy="390.4" r="1.8" stroke="#262626" stroke-width="1.0" fill="none"/>
<line x1="493.3" y1="409.0" x2="493.3" y2="440.0" stroke="#262626" stroke-width="0.9"/>
<line x1="463.1" y1="376.7" x2="463.1" y2="409.3" stroke="#262626" stroke-width="0.9"/>
<circle cx="463.1" cy="376.7" r="1.2" fill="#262626"/>
<circle cx="463.1" cy="409.3" r="1.2" fill="#262626"/>
<line x1="463.1" y1="376.7" x2="493.2" y2="376.7" stroke="#262626" stroke-width="0.9"/>
<line x1="463.1" y1="409.3" x2="481.0" y2="409.3" stroke="#262626" stroke-width="0.9"/>
<text transform="translate(459.3,390.0) rotate(-90)" x="-7.5" y="2.2" font-size="6.29" font-weight="bold" font-family="Liberation Sans" fill="#262626" stroke="#262626" stroke-width="0.25" textLength="15.0" lengthAdjust="spacingAndGlyphs">740</text>
<line x1="554.8" y1="376.7" x2="554.8" y2="390.4" stroke="#262626" stroke-width="0.9"/>
<circle cx="554.8" cy="376.7" r="1.2" fill="#262626"/>
<circle cx="554.8" cy="390.4" r="1.2" fill="#262626"/>
<line x1="527.4" y1="376.7" x2="556.0" y2="376.7" stroke="#262626" stroke-width="0.9"/>
<line x1="512.2" y1="390.4" x2="556.0" y2="390.4" stroke="#262626" stroke-width="0.9"/>
<text transform="translate(550.0,379.4) rotate(-90)" x="-6.5" y="1.9" font-size="5.57" font-weight="bold" font-family="Liberation Sans" fill="#262626" stroke="#262626" stroke-width="0.25" textLength="13.0" lengthAdjust="spacingAndGlyphs">500</text>
<circle cx="491.4" cy="408.0" r="10.3" stroke="#262626" stroke-width="1.0" fill="none"/>
<line x1="527.4" y1="410.0" x2="527.4" y2="440.0" stroke="#262626" stroke-width="0.9"/>
<line x1="493.2" y1="437.6" x2="527.4" y2="437.6" stroke="#262626" stroke-width="1.1"/>
<circle cx="493.2" cy="437.6" r="1.2" fill="#262626"/>
<circle cx="527.4" cy="437.6" r="1.2" fill="#262626"/>
<text transform="translate(503.0,436.3) scale(1.300,1)" font-size="7.29" font-weight="bold" font-style="normal" font-family="Liberation Sans" fill="#262626" stroke="#262626" stroke-width="0.25" textLength="13.8" lengthAdjust="spacing">720</text>
<line x1="511.4" y1="410.6" x2="536.4" y2="429.9" stroke="#262626" stroke-width="0.9"/>
<line x1="536.0" y1="431.0" x2="571.0" y2="431.0" stroke="#262626" stroke-width="1.2"/>
<text x="537.6" y="430.0" font-size="8.14" font-weight="bold" font-style="normal" font-family="Liberation Sans" fill="#262626" stroke="#262626" stroke-width="0.25" textLength="4.0" lengthAdjust="spacingAndGlyphs">П</text>
<text transform="translate(542.2,430.0) scale(1.296,1)" font-size="5.71" font-weight="bold" font-style="normal" font-family="Liberation Sans" fill="#262626" stroke="#262626" stroke-width="0.25" textLength="15.3" lengthAdjust="spacing">ЕТЛЯ</text>
<path d="M544,464 C548,461 552,458 557,457 M547,461.5 L550,461.5 M552,462.5 L558,462.5" stroke="#262626" stroke-width="1.2" fill="none"/>
<path d="M543,473 C547,471 550,468 553,467 C557,466 560,467 558,470 C556,472 552,473 549,473 M545,469 L557,468 M563.5,469 L567.5,469" stroke="#262626" stroke-width="1.6" fill="none"/>
<path d="M542,483 C546,481 551,478 556,476 M546,479.5 C552,479 560,479.5 570,480 L581,481.3" stroke="#262626" stroke-width="1.3" fill="none"/>
<path d="M553,486 C556,488 557,489 556,491 M559,488 L562,490" stroke="#262626" stroke-width="0.9" fill="none"/>
<path d="M541,501 C544,498 547,500 550,498 C553,496 557,497 560,497.5 M563.5,497.5 L567.5,497.5" stroke="#262626" stroke-width="1.5" fill="none"/>
<path d="M541,508 C545,506 549,505 553,505 C558,504 563,504 567,504.5 M542,506 C544,510 546,508 548,507" stroke="#262626" stroke-width="1.3" fill="none"/>
<path d="M547,518 L549,512 L551,518 M556,512 C559,515 562,517 566,516" stroke="#262626" stroke-width="1.0" fill="none"/>
</svg></body></html>
